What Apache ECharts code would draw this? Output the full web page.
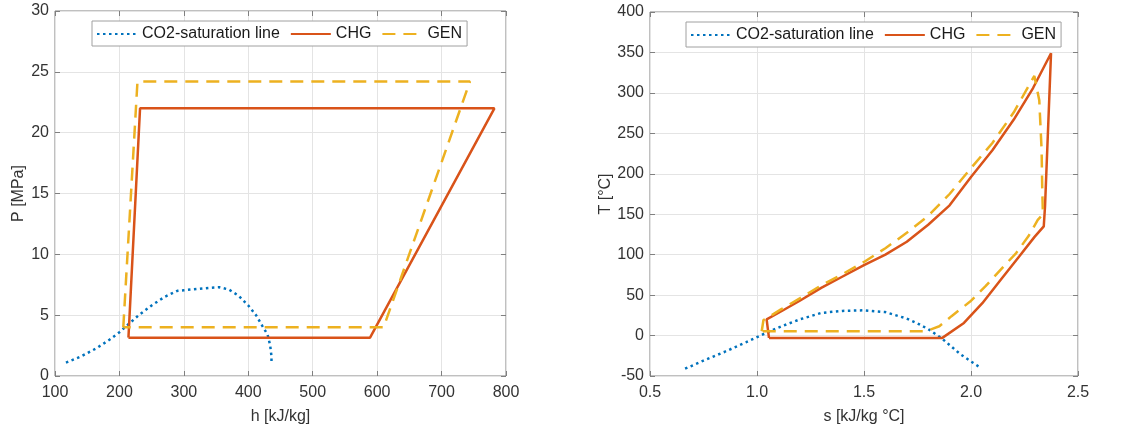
<!DOCTYPE html>
<html><head><meta charset="utf-8">
<script src="https://cdn.jsdelivr.net/npm/echarts@6/dist/echarts.min.js"></script>
<style>html,body{margin:0;padding:0;background:#fff}#c{width:1140px;height:433px}</style>
</head><body><div id="c"></div>
<script>
// ---------- data ----------
const seriesNames = ['CO2-saturation line', 'CHG', 'GEN'];

// Left panel: P-h diagram
const satH = [117, 140, 165, 185, 200, 215, 230, 250, 270, 290, 300, 320, 340, 355, 370, 385, 400, 412, 422, 430, 434, 436, 436];
const satP = [1.1, 1.6, 2.3, 3.0, 3.6, 4.3, 5.0, 5.8, 6.5, 7.0, 7.05, 7.15, 7.25, 7.3, 7.1, 6.6, 5.8, 5.0, 4.1, 3.4, 2.5, 1.6, 1.1];
const chgH = [214, 232, 782, 589, 214];
const chgP = [3.15, 22, 22, 3.15, 3.15];
const genH = [206, 228, 744, 610, 206];
const genP = [4.0, 24.2, 24.2, 4.0, 4.0];

// Right panel: T-s diagram
const satS = [0.664, 0.75, 0.85, 0.95, 1.04, 1.12, 1.20, 1.30, 1.40, 1.50, 1.60, 1.70, 1.75, 1.80, 1.866, 1.95, 2.00, 2.046];
const satT = [-41, -31, -20, -8, 3, 12, 20, 28, 30.5, 31.2, 29, 21, 15, 8, -4, -23, -32, -40];
const chgS = [1.056, 1.045, 1.12, 1.20, 1.30, 1.40, 1.50, 1.60, 1.70, 1.80, 1.90, 2.00, 2.10, 2.20, 2.29, 2.374, 2.346, 2.340, 2.297, 2.226, 2.139, 2.053, 1.967, 1.866, 1.056];
const chgT = [-2.9, 20, 31, 43, 59, 73, 87, 100, 116, 137, 161, 196, 229, 267, 306, 349, 160, 135, 122, 98, 69, 40, 15.6, -2.9, -2.9];
const genS = [1.022, 1.03, 1.11, 1.20, 1.30, 1.40, 1.50, 1.60, 1.70, 1.80, 1.90, 2.00, 2.10, 2.20, 2.296, 2.319, 2.330, 2.333, 2.336, 2.312, 2.269, 2.211, 2.139, 2.068, 1.996, 1.909, 1.852, 1.816, 1.79, 1.022];
const genT = [5.3, 19, 32, 46, 62, 76, 91, 108, 127, 148, 175, 207, 238, 276, 321, 291, 229, 180, 150, 143, 123, 102, 81.5, 61, 42, 24, 11.5, 8, 5.3, 5.3];

// ---------- helpers ----------
const zip = (a, b) => a.map((v, i) => [v, b[i]]);
const BLUE = '#0072BD', RED = '#D95319', YEL = '#EDB120';
const FONT = 'Liberation Sans, Arial, Helvetica, sans-serif';
const BOX = '#808080', GRID = '#e4e4e4', TXT = '#333333';

function tick() { return { show: true, inside: true, length: 5, lineStyle: { color: BOX } }; }
function mainX(gi, min, max, interval, name, fmt) {
  return {
    type: 'value', gridIndex: gi, min, max, interval, position: 'bottom',
    name, nameLocation: 'middle', nameGap: 33,
    nameTextStyle: { fontFamily: FONT, fontSize: 16, color: TXT },
    axisLine: { show: false, onZero: false },
    axisTick: tick(),
    axisLabel: { fontFamily: FONT, fontSize: 16, color: TXT, margin: 9, formatter: fmt },
    splitLine: { show: true, lineStyle: { color: GRID, width: 1 } }
  };
}
function mainY(gi, min, max, interval, name, gap) {
  return {
    type: 'value', gridIndex: gi, min, max, interval, position: 'left',
    name, nameLocation: 'middle', nameGap: gap, nameRotate: 90,
    nameTextStyle: { fontFamily: FONT, fontSize: 16, color: TXT },
    axisLine: { show: false, onZero: false },
    axisTick: tick(),
    axisLabel: { fontFamily: FONT, fontSize: 16, color: TXT, margin: 6 },
    splitLine: { show: true, lineStyle: { color: GRID, width: 1 } }
  };
}
function mirrorX(gi, min, max, interval) {
  return { type: 'value', gridIndex: gi, min, max, interval, position: 'top',
    axisLine: { show: false, onZero: false }, axisLabel: { show: false }, splitLine: { show: false },
    axisTick: tick() };
}
function mirrorY(gi, min, max, interval) {
  return { type: 'value', gridIndex: gi, min, max, interval, position: 'right',
    axisLine: { show: false, onZero: false }, axisLabel: { show: false }, splitLine: { show: false },
    axisTick: tick() };
}
function line(name, data, xi, yi, color, type, width) {
  return {
    name, type: 'line', data, xAxisIndex: xi, yAxisIndex: yi,
    symbol: 'none', showSymbol: false, smooth: false, animation: false,
    clip: true, z: name === 'CO2-saturation line' ? 3 : (name === 'CHG' ? 4 : 5),
    lineStyle: { color, width, type, cap: 'butt' },
    itemStyle: { color }
  };
}
function legend(left, top) {
  return {
    left, top, orient: 'horizontal', data: seriesNames,
    itemWidth: 40, itemHeight: 14, itemGap: 10,
    padding: [5, 5, 4, 4],
    backgroundColor: '#ffffff', borderColor: '#a0a0a0', borderWidth: 1,
    itemStyle: { opacity: 0, color: 'rgba(0,0,0,0)', borderColor: 'rgba(0,0,0,0)', borderWidth: 0 },
    textStyle: { fontFamily: FONT, fontSize: 16, color: '#1a1a1a' },
    selectedMode: false
  };
}

const DOT = [2.5, 3.5], DASH = [13, 8];

const option = {
  backgroundColor: '#ffffff',
  animation: false,
  grid: [
    { left: 55, right: 634, top: 11, bottom: 57, show: true, borderColor: BOX, borderWidth: 1, backgroundColor: 'transparent' },
    { left: 650, right: 62, top: 12, bottom: 57, show: true, borderColor: BOX, borderWidth: 1, backgroundColor: 'transparent' }
  ],
  xAxis: [
    mainX(0, 100, 800, 100, 'h [kJ/kg]'),
    mainX(1, 0.5, 2.5, 0.5, 's [kJ/kg °C]', v => v.toFixed(1)),
    mirrorX(0, 100, 800, 100),
    mirrorX(1, 0.5, 2.5, 0.5)
  ],
  yAxis: [
    mainY(0, 0, 30, 5, 'P [MPa]', 28),
    mainY(1, -50, 400, 50, 'T [°C]', 36),
    mirrorY(0, 0, 30, 5),
    mirrorY(1, -50, 400, 50)
  ],
  legend: [legend(92, 21), legend(686, 22)],
  series: [
    line(seriesNames[0], zip(satH, satP), 0, 0, BLUE, DOT, 2.5),
    line(seriesNames[1], zip(chgH, chgP), 0, 0, RED, 'solid', 2.5),
    line(seriesNames[2], zip(genH, genP), 0, 0, YEL, DASH, 2.5),
    line(seriesNames[0], zip(satS, satT), 1, 1, BLUE, DOT, 2.5),
    line(seriesNames[1], zip(chgS, chgT), 1, 1, RED, 'solid', 2.5),
    line(seriesNames[2], zip(genS, genT), 1, 1, YEL, DASH, 2.5)
  ]
};

const chart = echarts.init(document.getElementById('c'), null, { renderer: 'canvas' });
chart.setOption(option);
</script>
</body></html>
